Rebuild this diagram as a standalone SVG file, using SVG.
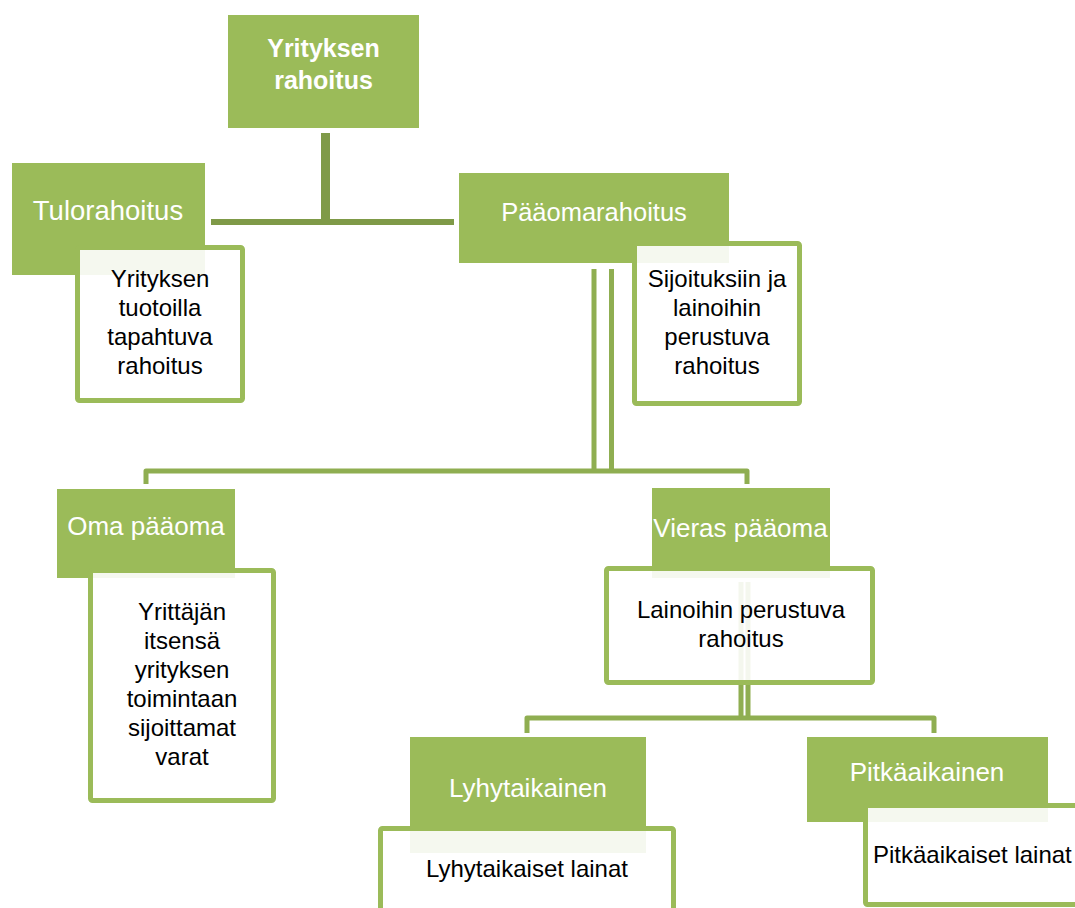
<svg xmlns="http://www.w3.org/2000/svg" width="1075" height="908" viewBox="0 0 1075 908">
  <style>
    .head { fill: #9BBB59; }
    .note { fill: #FFFFFF; fill-opacity: 0.9; stroke: #9BBB59; stroke-width: 5; }
    .lbl { font-family: "Liberation Sans", Arial, sans-serif; font-size: 26px; fill: #FFFFFF; text-anchor: middle; }
    .lbl.title { font-size: 25px; font-weight: bold; }
    .txt { font-family: "Liberation Sans", Arial, sans-serif; font-size: 24px; fill: #000000; text-anchor: middle; }
    .txt.left { text-anchor: start; }
    .wire { fill: none; stroke: #8FAE51; stroke-width: 5; stroke-linejoin: round; }
    .trunk { fill: none; stroke: #7F9A48; }
  </style>

  <!-- connectors -->
  <g id="connectors">
    <line class="trunk" x1="325.5" y1="133" x2="325.5" y2="225" stroke-width="9"/>
    <line class="trunk" x1="211" y1="222" x2="454" y2="222" stroke-width="6"/>
    <line class="wire" x1="594" y1="269" x2="594" y2="471"/>
    <line class="wire" x1="611.5" y1="269" x2="611.5" y2="471"/>
    <path class="wire" d="M146 484 V471 H747 V484"/>
    <line class="wire" x1="741" y1="582" x2="741" y2="718"/>
    <line class="wire" x1="748" y1="582" x2="748" y2="718"/>
    <path class="wire" d="M527 733 V718 H934 V733"/>
  </g>

  <g id="yrityksen-rahoitus">
    <rect class="head" x="228" y="15" width="191" height="113"/>
    <text class="lbl title" x="323.5" y="57">Yrityksen</text>
    <text class="lbl title" x="323.5" y="89">rahoitus</text>
  </g>

  <g id="tulorahoitus">
    <rect class="head" x="12" y="163" width="193" height="112"/>
    <text class="lbl" x="108" y="220" style="font-size:27.5px">Tulorahoitus</text>
    <rect class="note" x="77.5" y="247.5" width="165" height="153" rx="2"/>
    <text class="txt" x="160" y="287">Yrityksen</text>
    <text class="txt" x="160" y="316">tuotoilla</text>
    <text class="txt" x="160" y="345">tapahtuva</text>
    <text class="txt" x="160" y="374">rahoitus</text>
  </g>

  <g id="paaomarahoitus">
    <rect class="head" x="459" y="173" width="270" height="90"/>
    <text class="lbl" x="594" y="221" style="font-size:25.5px">Pääomarahoitus</text>
    <rect class="note" x="634.5" y="243.5" width="165" height="160" rx="2"/>
    <text class="txt" x="717" y="287">Sijoituksiin ja</text>
    <text class="txt" x="717" y="316">lainoihin</text>
    <text class="txt" x="717" y="345">perustuva</text>
    <text class="txt" x="717" y="374">rahoitus</text>
  </g>

  <g id="oma-paaoma">
    <rect class="head" x="57" y="489" width="178" height="89"/>
    <text class="lbl" x="146" y="535">Oma pääoma</text>
    <rect class="note" x="90.5" y="570.5" width="183" height="230" rx="2"/>
    <text class="txt" x="182" y="620">Yrittäjän</text>
    <text class="txt" x="182" y="649">itsensä</text>
    <text class="txt" x="182" y="678">yrityksen</text>
    <text class="txt" x="182" y="707">toimintaan</text>
    <text class="txt" x="182" y="736">sijoittamat</text>
    <text class="txt" x="182" y="765">varat</text>
  </g>

  <g id="vieras-paaoma">
    <rect class="head" x="652" y="488" width="178" height="90"/>
    <text class="lbl" x="740.5" y="537">Vieras pääoma</text>
    <rect class="note" x="606.5" y="568.5" width="266" height="114" rx="2"/>
    <text class="txt" x="741" y="618">Lainoihin perustuva</text>
    <text class="txt" x="741" y="647">rahoitus</text>
  </g>

  <g id="lyhytaikainen">
    <rect class="head" x="410" y="737" width="236" height="116"/>
    <text class="lbl" x="528" y="797">Lyhytaikainen</text>
    <rect class="note" x="380.5" y="828.5" width="293" height="100" rx="2"/>
    <text class="txt" x="527" y="877">Lyhytaikaiset lainat</text>
  </g>

  <g id="pitkaaikainen">
    <rect class="head" x="807" y="737" width="241" height="85"/>
    <text class="lbl" x="927" y="781">Pitkäaikainen</text>
    <rect class="note" x="865.5" y="805.5" width="250" height="99" rx="2"/>
    <text class="txt left" x="873" y="863">Pitkäaikaiset lainat</text>
  </g>
</svg>
